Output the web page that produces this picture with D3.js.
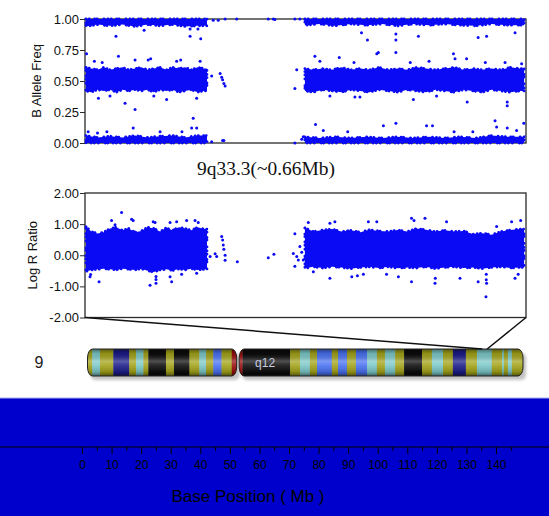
<!DOCTYPE html>
<html>
<head>
<meta charset="utf-8">
<script src="https://cdn.jsdelivr.net/npm/d3@7"></script>
<style>
  body { margin: 0; background: #fff; }
  svg { display: block; }
</style>
</head>
<body>
<svg id="chart" width="549" height="516" font-family="'Liberation Sans', Arial, sans-serif"></svg>
<script>
/* chr9 B Allele Freq / Log R Ratio view with ideogram + base position ruler */

// --- data (Mb, value) ---
const bafTicks = [0, 0.25, 0.5, 0.75, 1];
const lrrTicks = [-2, -1, 0, 1, 2];
const rulerMajor = d3.range(0, 141, 10);
const rulerMinor = d3.range(5, 146, 10);

// dense clouds: [Mb, low, high]
const bafHetP = [[0.3,0.42,0.61],[2,0.41,0.60],[4,0.43,0.59],[6,0.42,0.61],[8,0.43,0.59],[10,0.41,0.60],[12,0.43,0.61],[14,0.42,0.59],[16,0.43,0.60],[18,0.42,0.61],[20,0.43,0.59],[22,0.41,0.60],[24,0.43,0.61],[26,0.42,0.59],[28,0.43,0.61],[30,0.41,0.60],[32,0.42,0.61],[34,0.43,0.59],[36,0.41,0.61],[38,0.42,0.60],[39,0.42,0.60]];
const bafHetQ = [[70.3,0.42,0.60],[73,0.41,0.59],[76,0.43,0.60],[79,0.42,0.59],[82,0.41,0.61],[85,0.43,0.59],[88,0.42,0.60],[91,0.41,0.59],[94,0.43,0.61],[97,0.42,0.59],[100,0.41,0.60],[103,0.43,0.59],[106,0.42,0.61],[109,0.41,0.60],[112,0.43,0.59],[115,0.42,0.60],[118,0.41,0.61],[121,0.43,0.59],[124,0.42,0.60],[127,0.41,0.59],[130,0.43,0.60],[133,0.42,0.59],[136,0.41,0.61],[139,0.42,0.60],[140.4,0.42,0.60]];
const bafTopP = [[0.3,0.94,1],[4,0.955,1],[8,0.945,1],[12,0.955,1],[16,0.94,1],[20,0.955,1],[24,0.945,1],[28,0.955,1],[32,0.94,1],[36,0.945,1],[39,0.945,1]];
const bafTopQ = [[70.3,0.95,1],[75,0.96,1],[80,0.945,1],[85,0.96,1],[90,0.95,1],[95,0.96,1],[100,0.945,1],[105,0.96,1],[110,0.95,1],[115,0.96,1],[120,0.95,1],[125,0.945,1],[130,0.96,1],[135,0.95,1],[140.4,0.95,1]];
const bafLowP = [[0.3,0,0.06],[4,0,0.045],[8,0,0.055],[12,0,0.045],[16,0,0.06],[20,0,0.045],[24,0,0.055],[28,0,0.06],[32,0,0.045],[36,0,0.06],[39,0,0.06]];
const bafLowQ = [[70.3,0,0.05],[75,0,0.04],[80,0,0.05],[85,0,0.04],[90,0,0.05],[95,0,0.04],[100,0,0.05],[105,0,0.04],[110,0,0.05],[115,0,0.04],[120,0,0.05],[125,0,0.04],[130,0,0.06],[135,0,0.05],[140.4,0,0.05]];
const lrrP = [[0.3,-0.52,0.92],[2,-0.47,0.76],[4,-0.45,0.70],[6,-0.43,0.74],[8,-0.45,0.86],[10,-0.47,0.90],[12,-0.43,0.80],[14,-0.45,0.86],[16,-0.47,0.74],[18,-0.43,0.78],[20,-0.50,0.90],[22,-0.54,0.86],[24,-0.47,0.76],[26,-0.45,0.88],[28,-0.49,0.80],[30,-0.44,0.90],[32,-0.47,0.86],[34,-0.43,0.80],[36,-0.47,0.90],[38,-0.45,0.84],[39,-0.45,0.84]];
const lrrQ = [[70.3,-0.42,0.88],[73,-0.37,0.76],[76,-0.41,0.81],[79,-0.37,0.84],[82,-0.39,0.76],[85,-0.43,0.80],[88,-0.39,0.74],[91,-0.37,0.82],[94,-0.41,0.78],[97,-0.37,0.76],[100,-0.42,0.81],[103,-0.39,0.76],[106,-0.41,0.86],[109,-0.37,0.82],[112,-0.43,0.76],[115,-0.39,0.80],[118,-0.37,0.76],[121,-0.41,0.78],[124,-0.39,0.68],[127,-0.43,0.71],[130,-0.39,0.66],[133,-0.37,0.76],[136,-0.41,0.81],[139,-0.39,0.84],[140.4,-0.39,0.84]];

// scattered points: [Mb, value]
const bafDots = [
  [0.5,0.72],[10.7,0.70],[9.9,0.86],[18.9,0.91],[33.6,0.92],[36.1,0.92],[33.6,0.86],[37.0,0.84],
  [16.0,0.67],[20.2,0.67],[21.0,0.68],[29.3,0.66],[30.6,0.67],[36.8,0.66],[3.0,0.66],[5.5,0.65],
  [12.8,0.32],[16.0,0.27],[26.1,0.35],[4.3,0.36],[34.6,0.20],[35.7,0.36],[8.0,0.38],[22.0,0.38],
  [15.4,0.12],[34.1,0.12],[35.7,0.12],[1.0,0.09],[4.0,0.08],[7.0,0.09],[24.0,0.09],[31.0,0.09],
  [40.5,0.54],[43.2,0.56],[43.7,0.53],[44.0,0.51],[44.4,0.48],[44.8,0.46],
  [41.0,0.99],[42.6,0.99],[44.8,1.0],[48.5,1.0],[58.6,1.0],[60.2,1.0],[40.5,0.01],[44.0,0.02],[44.4,0.02],
  [60.7,0.995],[67.1,1.0],[68.7,1.0],[67.7,0.59],[67.1,0.44],[67.1,0.0],[69.3,0.03],[69.8,0.05],
  [73.5,0.70],[75.1,0.66],[81.3,0.69],[93.3,0.72],[93.8,0.73],[99.4,0.73],[117.8,0.72],[118.3,0.68],
  [122.0,0.68],[134.3,0.65],[139.6,0.64],[86.0,0.65],[104.0,0.65],[110.0,0.66],[128.0,0.65],
  [86.3,0.37],[87.9,0.37],[105.0,0.35],[112.4,0.38],[122.2,0.33],[135.0,0.33],[135.0,0.30],[78.3,0.38],
  [90.3,0.83],[99.4,0.83],[99.4,0.88],[106.6,0.86],[125.7,0.85],[128.4,0.86],[137.5,0.89],[88.4,0.89],
  [73.7,0.15],[76.2,0.10],[95.4,0.14],[99.4,0.16],[109.2,0.14],[111.1,0.14],[131.1,0.18],[131.6,0.13],
  [135.0,0.12],[138.0,0.10],[140.3,0.16],[118.0,0.09],[124.0,0.09],[84.0,0.09]
];
const lrrDots = [
  [11.7,1.37],[14.9,1.16],[15.4,1.12],[8.5,1.12],[9.6,0.98],[21.8,1.08],[22.4,1.05],[27.2,1.05],
  [29.3,1.08],[32.5,1.12],[35.2,1.12],[36.2,1.05],[1.6,-0.69],[1.8,-0.62],[4.5,-0.85],[20.8,-0.96],
  [22.7,-0.90],[22.7,-0.78],[22.7,-0.68],[27.2,-0.69],[27.7,-0.85],[30.9,-0.61],[35.7,-0.58],
  [40.0,-0.04],[41.6,0.05],[42.1,-0.04],[43.7,0.60],[44.0,0.49],[44.2,0.33],[44.4,0.19],[44.8,0.0],
  [44.8,-0.16],[48.7,-0.21],[58.6,-0.08],[60.4,0.03],
  [67.1,0.69],[66.6,0.06],[67.7,-0.04],[68.2,-0.15],[67.1,-0.35],[68.7,0.28],[69.8,-0.15],[69.3,0.10],
  [71.4,1.05],[78.3,1.03],[79.9,1.08],[90.6,1.08],[93.3,1.08],[104.4,1.19],[105.2,1.12],[108.7,1.19],
  [115.6,1.08],[131.6,0.92],[136.4,1.08],[139.3,1.12],[73.0,-0.53],[78.3,-0.74],[85.3,-0.69],
  [87.1,-0.66],[89.0,-0.61],[96.4,-0.61],[100.2,-0.69],[104.4,-0.85],[111.9,-0.90],[112.0,-0.74],
  [119.9,-0.74],[125.7,-0.85],[128.2,-1.33],[128.3,-0.61],[128.3,-0.79],[128.4,-0.90],[137.5,-0.74],[138.5,-0.61]
];

// ideogram bands: [start Mb, end Mb, stain]
const pArm = [0, 48.3];
const qArm = [49.1, 141];
const ideoBands = [
  [0,1.55,'olive'],[1.55,4.05,'teal'],[4.05,8.35,'olive'],[8.35,13.5,'navy'],[13.5,15.7,'olive'],
  [15.7,18.1,'teal'],[18.1,19.7,'olive'],[19.7,25.4,'black'],[25.4,28.0,'olive'],[28.0,33.0,'black'],
  [33.0,36.2,'olive'],[36.2,38.4,'teal'],[38.4,40.7,'olive'],[40.7,43.4,'blue'],[43.4,46.7,'olive'],
  [46.7,48.3,'red'],
  [49.1,50.2,'red'],[50.2,65.6,'black'],[65.6,68.8,'olive'],[68.8,72.0,'teal'],[72.0,74.3,'olive'],
  [74.3,79.1,'blue'],[79.1,81.1,'olive'],[81.1,84.0,'blue'],[84.0,86.9,'olive'],[86.9,90.5,'blue'],
  [90.5,93.7,'teal'],[93.7,96.3,'olive'],[96.3,99.6,'teal'],[99.6,102.5,'olive'],[102.5,108.3,'black'],
  [108.3,111.5,'olive'],[111.5,115.1,'teal'],[115.1,118.3,'olive'],[118.3,122.5,'navy'],[122.5,126.1,'olive'],
  [126.1,130.9,'teal'],[130.9,134.2,'olive'],[134.2,134.8,'teal'],[134.8,136.1,'olive'],[136.1,137.4,'teal'],
  [137.4,141,'olive']
];
const zoomRegion = [127.8, 129.4];

const STAIN = { olive:'#a3a31a', teal:'#7cc8c8', navy:'#1c1c8a', blue:'#4a72f2', black:'#0c0c0c', red:'#9a0d0d' };
const DOT = '#0a0af5';
const SANS = "'Liberation Sans', Arial, sans-serif";

// --- layout ---
const svg = d3.select('#chart');
const x = d3.scaleLinear().domain([0, 141]).range([85, 526]);
const yBaf = d3.scaleLinear().domain([0, 1]).range([143, 19]);
const yLrr = d3.scaleLinear().domain([-2, 2]).range([317.5, 193]);
const xIdeo = d3.scaleLinear().domain([0, 141]).range([87.5, 523]);
const xRuler = d3.scaleLinear().domain([0, 140]).range([82, 496]);

function panel(y, ticks, label, labelX) {
  const g = svg.append('g');
  g.append('rect')
    .attr('x', x(0)).attr('y', y.range()[1])
    .attr('width', x(141) - x(0)).attr('height', y.range()[0] - y.range()[1])
    .attr('fill', 'none').attr('stroke', '#2a2a2a').attr('stroke-width', 1.3);
  const ax = g.append('g').attr('transform', `translate(${x(0)},0)`)
    .call(d3.axisLeft(y).tickValues(ticks).tickFormat(d => d.toFixed(2)).tickSize(5).tickPadding(1));
  ax.select('.domain').remove();
  ax.selectAll('line').attr('stroke', '#2a2a2a');
  ax.attr('font-family', SANS);
  ax.selectAll('text').attr('font-size', 13).attr('fill', '#111');
  const mid = (y.range()[0] + y.range()[1]) / 2;
  g.append('text')
    .attr('transform', `translate(${labelX},${mid}) rotate(-90)`)
    .attr('text-anchor', 'middle').attr('font-size', 13).attr('fill', '#111')
    .text(label);
  return g;
}

// dense dot cloud: filled envelope with a dotted fringe
function cloud(g, y, data) {
  const area = d3.area()
    .x(d => x(d[0])).y0(d => y(d[1])).y1(d => y(d[2]));
  g.append('path').datum(data).attr('d', area)
    .attr('fill', DOT).attr('stroke', DOT)
    .attr('stroke-width', 2.8).attr('stroke-linecap', 'round')
    .attr('stroke-dasharray', '0.1,3.1,0.1,5.3,0.1,2.4,0.1,6.8,0.1,3.9');
}

function dots(g, y, data) {
  g.append('g').selectAll('circle').data(data).join('circle')
    .attr('cx', d => x(d[0])).attr('cy', d => y(d[1])).attr('r', 1.5)
    .attr('fill', DOT);
}

const gBaf = panel(yBaf, bafTicks, 'B Allele Freq', 41);
[bafHetP, bafHetQ, bafTopP, bafTopQ, bafLowP, bafLowQ].forEach(c => cloud(gBaf, yBaf, c));
dots(gBaf, yBaf, bafDots);

svg.append('text')
  .attr('x', 266).attr('y', 174.5).attr('text-anchor', 'middle')
  .attr('font-family', "'Liberation Serif', 'Times New Roman', serif")
  .attr('font-size', 18).attr('fill', '#111')
  .attr('textLength', 138).attr('lengthAdjust', 'spacingAndGlyphs')
  .text('9q33.3(~0.66Mb)');

const gLrr = panel(yLrr, lrrTicks, 'Log R Ratio', 37);
[lrrP, lrrQ].forEach(c => cloud(gLrr, yLrr, c));
dots(gLrr, yLrr, lrrDots);

// --- ideogram ---
const iTop = 349, iBot = 376;
const defs = svg.append('defs');
const shade = defs.append('linearGradient').attr('id', 'cyl')
  .attr('x1', 0).attr('y1', 0).attr('x2', 0).attr('y2', 1);
[[0, '#000', 0.45], [0.18, '#000', 0.1], [0.45, '#fff', 0.28], [0.6, '#fff', 0.12], [0.85, '#000', 0.15], [1, '#000', 0.5]]
  .forEach(([o, c, a]) => shade.append('stop').attr('offset', o).attr('stop-color', c).attr('stop-opacity', a));
defs.append('filter').attr('id', 'blur').append('feGaussianBlur').attr('stdDeviation', 1.6);

const gIdeo = svg.append('g');
[pArm, qArm].forEach((arm, i) => {
  const ax0 = xIdeo(arm[0]), ax1 = xIdeo(arm[1]);
  gIdeo.append('rect')
    .attr('x', ax0 + 3).attr('y', iTop + 4).attr('width', ax1 - ax0).attr('height', iBot - iTop)
    .attr('rx', 5).attr('fill', '#9a9a9a').attr('opacity', 0.6).attr('filter', 'url(#blur)');
  defs.append('clipPath').attr('id', 'arm' + i).append('rect')
    .attr('x', ax0).attr('y', iTop).attr('width', ax1 - ax0).attr('height', iBot - iTop)
    .attr('rx', 5).attr('ry', 9);
  const ga = gIdeo.append('g').attr('clip-path', `url(#arm${i})`);
  ga.selectAll('rect').data(ideoBands.filter(b => b[0] >= arm[0] && b[1] <= arm[1])).join('rect')
    .attr('x', d => xIdeo(d[0])).attr('y', iTop)
    .attr('width', d => xIdeo(d[1]) - xIdeo(d[0]) + 0.3).attr('height', iBot - iTop)
    .attr('fill', d => STAIN[d[2]]);
  ga.append('rect').attr('x', ax0).attr('y', iTop).attr('width', ax1 - ax0).attr('height', iBot - iTop)
    .attr('fill', 'url(#cyl)');
  gIdeo.append('rect')
    .attr('x', ax0).attr('y', iTop).attr('width', ax1 - ax0).attr('height', iBot - iTop)
    .attr('rx', 5).attr('ry', 9).attr('fill', 'none').attr('stroke', '#222').attr('stroke-width', 1);
});
gIdeo.append('text')
  .attr('x', xIdeo(57.5)).attr('y', 367).attr('text-anchor', 'middle')
  .attr('font-size', 12).attr('fill', '#c8cce0').text('q12');
svg.append('text').attr('x', 39).attr('y', 367.5).attr('text-anchor', 'middle')
  .attr('font-size', 16).attr('fill', '#222').text('9');

// zoom lines from LRR panel to 9q33.3
svg.append('path')
  .attr('d', `M${x(0)},${yLrr(-2)}L${xIdeo(zoomRegion[0])},${iTop}M${x(141)},${yLrr(-2)}L${xIdeo(zoomRegion[1])},${iTop}`)
  .attr('fill', 'none').attr('stroke', '#111').attr('stroke-width', 1.5);

// --- base position ruler ---
svg.append('rect').attr('x', 0).attr('y', 398).attr('width', 549).attr('height', 118).attr('fill', '#0000cc');
svg.append('line').attr('x1', 0).attr('x2', 549).attr('y1', 398).attr('y2', 398)
  .attr('stroke', '#a9b0ee').attr('stroke-width', 1);
svg.append('line').attr('x1', 0).attr('x2', 549).attr('y1', 447).attr('y2', 447)
  .attr('stroke', '#000').attr('stroke-width', 1.2);
const rMaj = svg.append('g').attr('transform', 'translate(0,447)')
  .call(d3.axisBottom(xRuler).tickValues(rulerMajor).tickFormat(d3.format('d')).tickSize(7).tickPadding(6));
const rMin = svg.append('g').attr('transform', 'translate(0,447)')
  .call(d3.axisBottom(xRuler).tickValues(rulerMinor).tickFormat('').tickSize(4));
[rMaj, rMin].forEach(a => { a.select('.domain').remove(); a.selectAll('line').attr('stroke', '#000'); });
rMaj.attr('font-family', SANS);
rMaj.selectAll('text').attr('font-size', 12).attr('fill', '#000');
svg.append('text').attr('x', 248).attr('y', 502).attr('text-anchor', 'middle')
  .attr('font-size', 17).attr('fill', '#000').text('Base Position ( Mb )');
</script>
</body>
</html>
